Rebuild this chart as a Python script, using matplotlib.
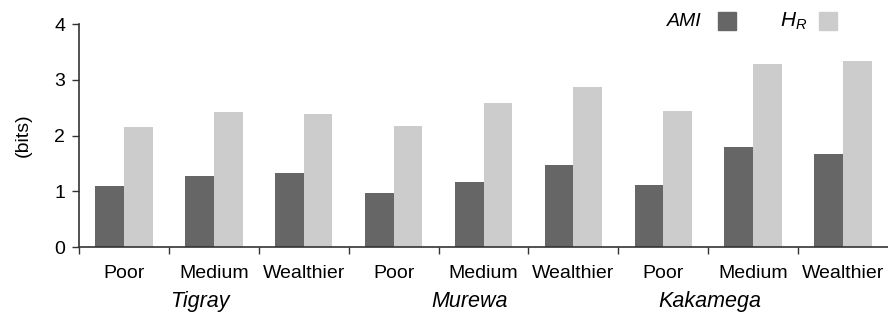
import numpy as np
import matplotlib.pyplot as plt
from matplotlib.patches import Rectangle

plt.rcParams['font.family'] = ['Liberation Sans', 'DejaVu Sans']
plt.rcParams['mathtext.fontset'] = 'custom'
plt.rcParams['mathtext.it'] = 'Liberation Sans:italic'
plt.rcParams['mathtext.rm'] = 'Liberation Sans'

# data
regions = ['Tigray', 'Murewa', 'Kakamega']
classes = ['Poor', 'Medium', 'Wealthier']
ami = [1.09, 1.27, 1.33, 0.97, 1.17, 1.47, 1.11, 1.79, 1.67]
h_r = [2.15, 2.42, 2.38, 2.17, 2.58, 2.87, 2.44, 3.29, 3.33]

dark = '#666666'
light = '#cccccc'
W, H = 888, 318

fig = plt.figure(figsize=(W / 100, H / 100), dpi=100)
ax = fig.add_axes([79 / W, 1 - 247 / H, 1 - 79 / W, (247 - 24) / H])

x = np.arange(len(ami))
w = 0.32
ax.bar(x - w / 2, ami, width=w, color=dark)
ax.bar(x + w / 2, h_r, width=w, color=light)

ax.set_xlim(-0.5, len(ami) - 0.5)
ax.set_ylim(0, 4)
ax.set_yticks([0, 1, 2, 3, 4])

# ticks at group boundaries, labels centered under groups
ax.set_xticks(np.arange(len(ami)) - 0.5)
ax.set_xticklabels([])
ax.set_xticks(x, minor=True)
ax.set_xticklabels(classes * 3, minor=True)
ax.tick_params(axis='x', which='minor', length=0, pad=13, labelsize=14)
ax.tick_params(axis='x', which='major', length=5, width=1, color='#333333')
ax.tick_params(axis='y', length=5, width=1, color='#333333', labelsize=14, pad=5)

for s in ['top', 'right']:
    ax.spines[s].set_visible(False)
for s in ['left', 'bottom']:
    ax.spines[s].set_color('#333333')
    ax.spines[s].set_linewidth(1.2)

ax.set_ylabel('(bits)', fontsize=14, labelpad=16)

# region names under the class labels
for r, px in zip(regions, [200, 470, 710]):
    fig.text(px / W, 1 - 307 / H, r, ha='center', va='baseline',
             fontsize=15.5, style='italic')

# legend drawn by hand at top right
fig.text(702 / W, 1 - 21 / H, 'AMI', ha='right', va='center', fontsize=14, style='italic')
fig.text(807 / W, 1 - 21 / H, r'$H_R$', ha='right', va='center', fontsize=15)
for px, c in [(718, dark), (819, light)]:
    fig.add_artist(Rectangle((px / W, 1 - 30 / H), 18 / W, 18 / H,
                             transform=fig.transFigure, color=c))

fig.savefig('out.png', dpi=100)
